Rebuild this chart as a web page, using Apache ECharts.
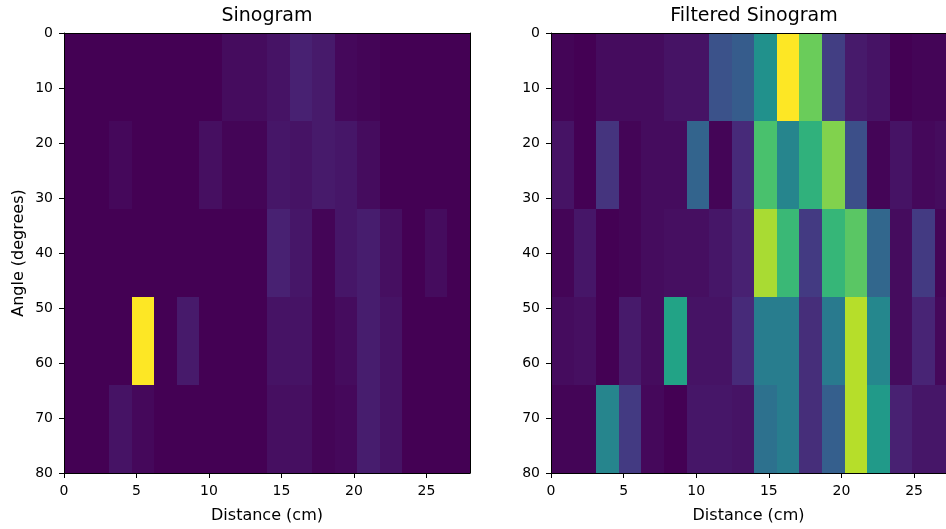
<!DOCTYPE html>
<html><head><meta charset="utf-8">
<script src="https://cdn.jsdelivr.net/npm/echarts@6/dist/echarts.min.js"></script>
<style>html,body{margin:0;padding:0;background:#fff}#c{width:946px;height:529px}</style>
</head><body><div id="c"></div>
<script>
// ---- data ----
const angleEdges = [0, 16, 32, 48, 64, 80];
const distanceRange = [0, 28];
const distanceBins = 18;
const xTicks = [0, 5, 10, 15, 20, 25];
const yTicks = [0, 10, 20, 30, 40, 50, 60, 70, 80];

// rows = angle bins (top to bottom), cols = distance bins (left to right)
const sinogramRow0 = [0, 0, 0, 0, 0, 0, 0, 0.03, 0.03, 0.05, 0.09, 0.07, 0.02, 0.01, 0, 0, 0, 0];
const sinogramRow1 = [0, 0, 0.02, 0, 0, 0, 0.04, 0.01, 0.01, 0.06, 0.05, 0.07, 0.06, 0.03, 0, 0, 0, 0];
const sinogramRow2 = [0, 0, 0, 0, 0, 0, 0, 0, 0, 0.09, 0.06, 0.01, 0.06, 0.08, 0.04, 0, 0.03, 0];
const sinogramRow3 = [0, 0, 0, 1.0, 0, 0.07, 0, 0, 0, 0.05, 0.05, 0.01, 0.03, 0.08, 0.05, 0, 0, 0];
const sinogramRow4 = [0, 0, 0.05, 0.02, 0, 0, 0, 0, 0, 0.04, 0.04, 0.01, 0.02, 0.08, 0.05, 0, 0, 0];

const filteredRow0 = [0.01, 0.00, 0.03, 0.03, 0.03, 0.05, 0.05, 0.25, 0.29, 0.50, 1.00, 0.77, 0.18, 0.07, 0.05, 0.00, 0.01, 0.01];
const filteredRow1 = [0.05, 0.00, 0.15, 0.01, 0.03, 0.03, 0.32, 0.01, 0.12, 0.71, 0.45, 0.64, 0.81, 0.24, 0.01, 0.05, 0.02, 0.03];
const filteredRow2 = [0.01, 0.06, 0.00, 0.01, 0.03, 0.04, 0.04, 0.06, 0.09, 0.87, 0.67, 0.17, 0.66, 0.74, 0.33, 0.03, 0.17, 0.01];
const filteredRow3 = [0.03, 0.04, 0.00, 0.07, 0.03, 0.58, 0.05, 0.05, 0.12, 0.42, 0.42, 0.13, 0.41, 0.89, 0.46, 0.03, 0.10, 0.02];
const filteredRow4 = [0.01, 0.01, 0.45, 0.17, 0.02, 0.00, 0.06, 0.06, 0.05, 0.37, 0.42, 0.13, 0.30, 0.89, 0.54, 0.09, 0.06, 0.06];

const sinogram = [sinogramRow0, sinogramRow1, sinogramRow2, sinogramRow3, sinogramRow4];
const filtered = [filteredRow0, filteredRow1, filteredRow2, filteredRow3, filteredRow4];

// ---- styles / layout ----
const viridis = ['#440154', '#482475', '#414487', '#355f8d', '#2a788e', '#21918c',
                 '#22a884', '#44bf70', '#7ad151', '#bddf26', '#fde725'];
const FONT = 'DejaVu Sans';
const plotTop = 33, plotHeight = 442, plotWidth = 406;
const gridLefts = [64, 551];
const rightVisibleMax = 27.2; // right panel is cut off by the figure edge

function cells(mat) {
  const w = (distanceRange[1] - distanceRange[0]) / distanceBins;
  const out = [];
  mat.forEach((row, r) => row.forEach((v, c) => {
    out.push([distanceRange[0] + c * w, distanceRange[0] + (c + 1) * w, angleEdges[r], angleEdges[r + 1], v]);
  }));
  return out;
}
function flatMin(m) { return Math.min(...m.flat()); }
function flatMax(m) { return Math.max(...m.flat()); }

function renderItem(params, api) {
  const p0 = api.coord([api.value(0), api.value(2)]);
  const p1 = api.coord([api.value(1), api.value(3)]);
  const x0 = Math.round(Math.min(p0[0], p1[0])), x1 = Math.round(Math.max(p0[0], p1[0]));
  const y0 = Math.round(Math.min(p0[1], p1[1])), y1 = Math.round(Math.max(p0[1], p1[1]));
  return { type: 'rect', shape: { x: x0, y: y0, width: x1 - x0, height: y1 - y0 },
           style: { fill: api.visual('color') } };
}

const tickText = { color: '#000', fontFamily: FONT, fontSize: 14 };
const nameText = { color: '#000', fontFamily: FONT, fontSize: 16 };
const grids = [], xAxes = [], yAxes = [], series = [];
[0, 1].forEach(i => {
  const g = i === 0
    ? { left: gridLefts[0], top: plotTop, width: plotWidth, height: plotHeight }
    : { left: gridLefts[1], top: plotTop, right: 0, height: plotHeight };
  grids.push(Object.assign({ containLabel: false }, g));
  const xMax = i === 0 ? distanceRange[1] : rightVisibleMax;
  xAxes.push({ type: 'value', gridIndex: i, min: distanceRange[0], max: xMax, z: 10,
    name: 'Distance (cm)', nameLocation: 'middle', nameGap: 35, nameTextStyle: nameText,
    axisLine: { show: true, onZero: false, lineStyle: { color: '#000', width: 1 } },
    axisTick: { show: true, length: 5, lineStyle: { color: '#000' }, customValues: xTicks },
    axisLabel: Object.assign({ margin: 11, customValues: xTicks }, tickText),
    splitLine: { show: false } });
  xAxes.push({ type: 'value', gridIndex: i, position: 'top', min: distanceRange[0], max: xMax, z: 10,
    axisLine: { show: true, onZero: false, lineStyle: { color: '#000', width: 1 } },
    axisTick: { show: false }, axisLabel: { show: false }, splitLine: { show: false } });
  yAxes.push({ type: 'value', gridIndex: i, inverse: true, min: 0, max: 80, interval: 10, z: 10,
    name: i === 0 ? 'Angle (degrees)' : '', nameLocation: 'middle', nameGap: 37, nameTextStyle: nameText,
    axisLine: { show: true, onZero: false, lineStyle: { color: '#000', width: 1 } },
    axisTick: { show: true, length: 5, lineStyle: { color: '#000' }, customValues: yTicks },
    axisLabel: Object.assign({ margin: 11, customValues: yTicks }, tickText),
    splitLine: { show: false } });
  yAxes.push({ type: 'value', gridIndex: i, position: 'right', inverse: true, min: 0, max: 80, z: 10,
    axisLine: { show: i === 0, onZero: false, lineStyle: { color: '#000', width: 1 } },
    axisTick: { show: false }, axisLabel: { show: false }, splitLine: { show: false } });
  const mat = i === 0 ? sinogram : filtered;
  series.push({ type: 'custom', xAxisIndex: 2 * i, yAxisIndex: 2 * i, renderItem: renderItem,
    encode: { x: [0, 1], y: [2, 3] }, data: cells(mat), silent: true, animation: false });
});

const titleStyle = { fontFamily: FONT, fontSize: 19, fontWeight: 'normal', color: '#000' };
const chart = echarts.init(document.getElementById('c'), null, { renderer: 'canvas' });
chart.setOption({
  animation: false,
  backgroundColor: '#fff',
  title: [
    { text: 'Sinogram', left: gridLefts[0] + plotWidth / 2, top: 7, padding: 0, textAlign: 'center', textStyle: titleStyle },
    { text: 'Filtered Sinogram', left: gridLefts[1] + plotWidth / 2, top: 7, padding: 0, textAlign: 'center', textStyle: titleStyle }
  ],
  grid: grids, xAxis: xAxes, yAxis: yAxes,
  visualMap: [
    { show: false, seriesIndex: 0, dimension: 4, min: flatMin(sinogram), max: flatMax(sinogram), inRange: { color: viridis } },
    { show: false, seriesIndex: 1, dimension: 4, min: flatMin(filtered), max: flatMax(filtered), inRange: { color: viridis } }
  ],
  series: series
});
</script></body></html>
